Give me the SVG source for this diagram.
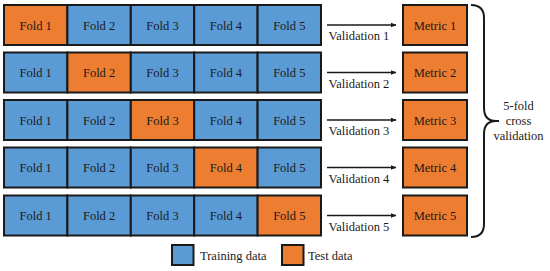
<svg xmlns="http://www.w3.org/2000/svg" width="550" height="271" viewBox="0 0 550 271" font-family="'Liberation Serif', 'Times New Roman', 'DejaVu Serif', serif">
<defs>
<style>
.tr{fill:#5b9bd5;stroke:#1a1a1a;stroke-width:2}
.te{fill:#ed7d31;stroke:#1a1a1a;stroke-width:2}
text{font-size:12.5px;fill:#1a1a1a}
.c{text-anchor:middle}
.ln{stroke:#1a1a1a;stroke-width:1.3;fill:none}
</style>
<marker id="ah" viewBox="0 0 10 10" refX="9" refY="5" markerWidth="6" markerHeight="6" orient="auto" markerUnits="userSpaceOnUse">
<path d="M0,1 L10,5 L0,9 z" fill="#1a1a1a"/>
</marker>
</defs>
<rect width="550" height="271" fill="#fff"/>

<g id="row1">
<rect class="te" x="4" y="5" width="63.4" height="40"/>
<rect class="tr" x="67.4" y="5" width="63.4" height="40"/>
<rect class="tr" x="130.8" y="5" width="63.4" height="40"/>
<rect class="tr" x="194.2" y="5" width="63.4" height="40"/>
<rect class="tr" x="257.6" y="5" width="63.4" height="40"/>
<text class="c" x="35.7" y="29.5">Fold 1</text>
<text class="c" x="99.1" y="29.5">Fold 2</text>
<text class="c" x="162.5" y="29.5">Fold 3</text>
<text class="c" x="225.9" y="29.5">Fold 4</text>
<text class="c" x="289.3" y="29.5">Fold 5</text>
</g>
<g id="row2">
<rect class="tr" x="4" y="52.5" width="63.4" height="40"/>
<rect class="te" x="67.4" y="52.5" width="63.4" height="40"/>
<rect class="tr" x="130.8" y="52.5" width="63.4" height="40"/>
<rect class="tr" x="194.2" y="52.5" width="63.4" height="40"/>
<rect class="tr" x="257.6" y="52.5" width="63.4" height="40"/>
<text class="c" x="35.7" y="77">Fold 1</text>
<text class="c" x="99.1" y="77">Fold 2</text>
<text class="c" x="162.5" y="77">Fold 3</text>
<text class="c" x="225.9" y="77">Fold 4</text>
<text class="c" x="289.3" y="77">Fold 5</text>
</g>
<g id="row3">
<rect class="tr" x="4" y="100" width="63.4" height="40"/>
<rect class="tr" x="67.4" y="100" width="63.4" height="40"/>
<rect class="te" x="130.8" y="100" width="63.4" height="40"/>
<rect class="tr" x="194.2" y="100" width="63.4" height="40"/>
<rect class="tr" x="257.6" y="100" width="63.4" height="40"/>
<text class="c" x="35.7" y="124.5">Fold 1</text>
<text class="c" x="99.1" y="124.5">Fold 2</text>
<text class="c" x="162.5" y="124.5">Fold 3</text>
<text class="c" x="225.9" y="124.5">Fold 4</text>
<text class="c" x="289.3" y="124.5">Fold 5</text>
</g>
<g id="row4">
<rect class="tr" x="4" y="147.5" width="63.4" height="40"/>
<rect class="tr" x="67.4" y="147.5" width="63.4" height="40"/>
<rect class="tr" x="130.8" y="147.5" width="63.4" height="40"/>
<rect class="te" x="194.2" y="147.5" width="63.4" height="40"/>
<rect class="tr" x="257.6" y="147.5" width="63.4" height="40"/>
<text class="c" x="35.7" y="172">Fold 1</text>
<text class="c" x="99.1" y="172">Fold 2</text>
<text class="c" x="162.5" y="172">Fold 3</text>
<text class="c" x="225.9" y="172">Fold 4</text>
<text class="c" x="289.3" y="172">Fold 5</text>
</g>
<g id="row5">
<rect class="tr" x="4" y="195.5" width="63.4" height="40"/>
<rect class="tr" x="67.4" y="195.5" width="63.4" height="40"/>
<rect class="tr" x="130.8" y="195.5" width="63.4" height="40"/>
<rect class="tr" x="194.2" y="195.5" width="63.4" height="40"/>
<rect class="te" x="257.6" y="195.5" width="63.4" height="40"/>
<text class="c" x="35.7" y="220">Fold 1</text>
<text class="c" x="99.1" y="220">Fold 2</text>
<text class="c" x="162.5" y="220">Fold 3</text>
<text class="c" x="225.9" y="220">Fold 4</text>
<text class="c" x="289.3" y="220">Fold 5</text>
</g>

<g id="metric1"><rect class="te" x="403" y="5" width="64" height="40"/><text class="c" x="435" y="29.5">Metric 1</text></g>
<g id="metric2"><rect class="te" x="403" y="52.5" width="64" height="40"/><text class="c" x="435" y="77">Metric 2</text></g>
<g id="metric3"><rect class="te" x="403" y="100" width="64" height="40"/><text class="c" x="435" y="124.5">Metric 3</text></g>
<g id="metric4"><rect class="te" x="403" y="147.5" width="64" height="40"/><text class="c" x="435" y="172">Metric 4</text></g>
<g id="metric5"><rect class="te" x="403" y="195.5" width="64" height="40"/><text class="c" x="435" y="220">Metric 5</text></g>

<g id="connectors">
<line class="ln" x1="327" y1="25" x2="396" y2="25" marker-end="url(#ah)"/>
<line class="ln" x1="327" y1="72.5" x2="396" y2="72.5" marker-end="url(#ah)"/>
<line class="ln" x1="327" y1="120" x2="396" y2="120" marker-end="url(#ah)"/>
<line class="ln" x1="327" y1="167.5" x2="396" y2="167.5" marker-end="url(#ah)"/>
<line class="ln" x1="327" y1="215.5" x2="396" y2="215.5" marker-end="url(#ah)"/>
<text class="c" x="359" y="40">Validation 1</text>
<text class="c" x="359" y="87.5">Validation 2</text>
<text class="c" x="359" y="135">Validation 3</text>
<text class="c" x="359" y="182.5">Validation 4</text>
<text class="c" x="359" y="230.5">Validation 5</text>
</g>

<g id="brace">
<path d="M471,5 Q484,5 484,18 L484,108 Q484,121 496,121 L499,121 M496,121 Q484,121 484,134 L484,224 Q484,237 471,237" fill="none" stroke="#1a1a1a" stroke-width="2"/>
<text class="c" x="518.5" y="110">5-fold</text>
<text class="c" x="518.5" y="125">cross</text>
<text class="c" x="518.5" y="139.5">validation</text>
</g>

<g id="legend">
<rect class="tr" x="172" y="245" width="21.5" height="20"/>
<text x="200" y="260">Training data</text>
<rect class="te" x="282" y="245" width="21.5" height="20"/>
<text x="308" y="260">Test data</text>
</g>
</svg>
